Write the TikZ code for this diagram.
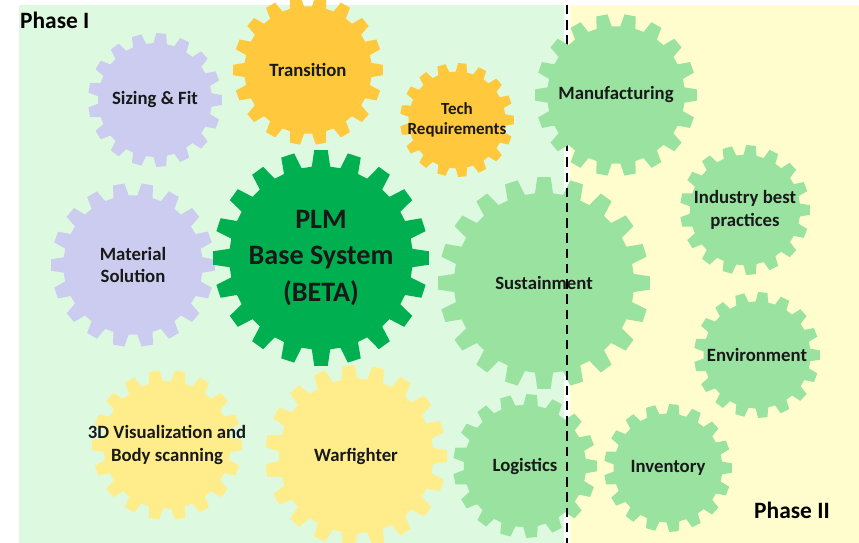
\documentclass[tikz,border=0pt]{standalone}
\usepackage{fontspec}
\setmainfont{Carlito}
\usepackage{tikz}
\definecolor{bgleft}{RGB}{221,250,224}
\definecolor{bgright}{RGB}{255,253,206}
\definecolor{lavender}{RGB}{204,204,240}
\definecolor{amber}{RGB}{255,200,61}
\definecolor{darkgear}{RGB}{0,176,80}
\definecolor{lightgear}{RGB}{153,226,160}
\definecolor{paleyellow}{RGB}{255,237,140}
\tikzstyle{gearlabel} = [align=center,
	text=black!90,
	font=\bfseries\fontsize{16}{19.5}\selectfont]
\tikzstyle{phase} = [font=\bfseries\fontsize{20}{24}\selectfont]
\newcommand{\drawgear}[7][]{\pgfmathsetmacro{\gin}{0.85*#4}
	\pgfmathsetmacro{\gstep}{360/#5}
	\fill[#6, shift={#3}] ({-0.32*\gstep}:\gin)
	\foreach \k in {1,...,#5}{
		-- ({(\k-1)*\gstep-0.2*\gstep}:#4) -- ({(\k-1)*\gstep+0.2*\gstep}:#4)
		-- ({(\k-1)*\gstep+0.32*\gstep}:\gin) -- ({\k*\gstep-0.32*\gstep}:\gin)
	} -- cycle;
	\node[gearlabel, #1] (#2) at #3 {#7}}

\begin{document}
\begin{tikzpicture}[x=0.03cm, y=-0.03cm]
			\useasboundingbox (0,0) rectangle (859,543);
			\clip (0,0) rectangle (859,543);
			\fill[white] (0,0) rectangle (859,543);
			\fill[bgleft] (19,5) rectangle (564,543);
			\fill[bgright] (570,5) rectangle (859,543);
			\node (phaseI) [phase, anchor=west] at (16,20) {Phase I};
			\node (phaseII) [phase] at (792,510) {Phase II};
			
			\drawgear{sizing}{(155,100)}{67}{17}{lavender}{Sizing \& Fit};
			\drawgear{transition}{(308,70)}{75}{18}{amber}{Transition};
			\drawgear[font=\bfseries\fontsize{14.5}{17}\selectfont]{tech}{(457,120)}{57}{17}{amber}{Tech\\Requirements};
			\drawgear{material}{(133,265)}{82}{18}{lavender}{Material\\Solution};
			\drawgear[font=\bfseries\fontsize{24}{31}\selectfont]{plm}{(321,258)}{108}{20}{darkgear}{PLM\\Base System\\(BETA)};
			\drawgear{sustain}{(544,283)}{106}{20}{lightgear}{Sustainment};
			\drawgear{industry}{(745,210)}{65}{17}{lightgear}{Industry best\\practices};
			\drawgear{environment}{(757,355)}{63}{17}{lightgear}{Environment};
			\drawgear{inventory}{(668,468)}{64}{17}{lightgear}{Inventory};
			\drawgear{logistics}{(525,466)}{72}{17}{lightgear}{Logistics};
			\drawgear{warfighter}{(356,456)}{91}{19}{paleyellow}{Warfighter};
			\drawgear{visual}{(167,445)}{75}{18}{paleyellow}{3D Visualization and\\Body scanning};
			
			% phase divider
			\coordinate (divtop) at (567,5);
			\coordinate (divbot) at (567,543);
			\draw[black, line width=2.1pt, dash pattern=on 8pt off 5pt] (divtop) -- (divbot);
			
			\drawgear{manufacturing}{(616,95)}{81}{18}{lightgear}{Manufacturing};
		\end{tikzpicture}
\end{document}
